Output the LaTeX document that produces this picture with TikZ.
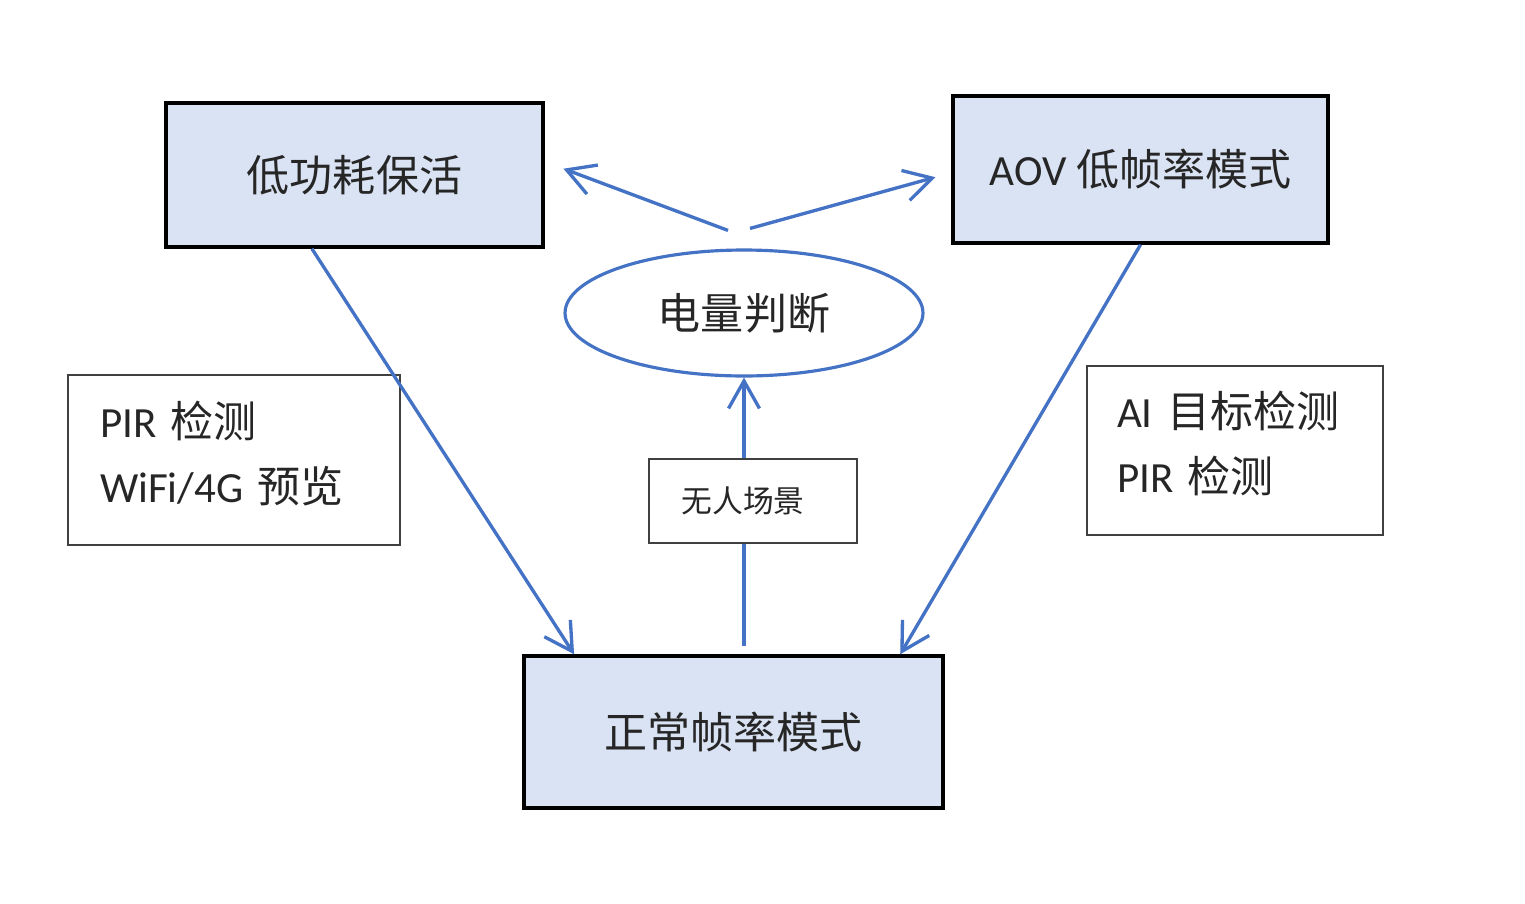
\documentclass[tikz,border=0pt]{standalone}
\usepackage{fontspec}
\usepackage{tikz}
\usetikzlibrary{arrows.meta,calc,positioning,shapes.geometric}
\setmainfont{Carlito}
\newfontfamily\cjk{Noto Sans CJK SC}
\definecolor{modefill}{RGB}{218,227,243}
\definecolor{flowblue}{RGB}{68,114,196}

\begin{document}
\begin{tikzpicture}[x=0.02cm,y=-0.02cm,>={Straight Barb[length=5.5mm,width=6.2mm]},
		mode/.style={draw=black,fill=modefill,line width=2pt,inner sep=0pt,text=black!85,font=\fontsize{24.5}{30}\selectfont},
		infobox/.style={draw=black!75,line width=1.1pt,align=left,inner xsep=0pt,text=black!85,font=\fontsize{24.5}{37}\selectfont},
		flow/.style={->,draw=flowblue,line width=1.9pt}]
		\useasboundingbox (0,0) rectangle (1525,903);
		\node[mode,minimum width=7.54cm,minimum height=2.88cm] (lowp) at (354.5,175) {\cjk 低功耗保活};
		\node[mode,minimum width=7.5cm,minimum height=2.94cm] (aov) at (1140.5,169.5) {AOV {\cjk 低帧率模式}};
		\node[mode,minimum width=8.38cm,minimum height=3.04cm] (normal) at (733.5,732) {\cjk 正常帧率模式};
		\node[ellipse,draw=flowblue,line width=1.8pt,minimum width=7.16cm,minimum height=2.52cm,text=black!85,font=\fontsize{24.5}{30}\selectfont] (judge) at (744,313) {\cjk 电量判断};
		\node[draw=black!75,line width=1.1pt,minimum width=4.16cm,minimum height=1.68cm,text=black!85,font=\fontsize{17.5}{20}\selectfont] (noone) at (753,501) {{\cjk 无人场景}\rule{0.4cm}{0pt}};
		\node[infobox,text width=5.36cm,minimum width=6.64cm,minimum height=3.4cm] (pirwifi) at (234,460) {PIR {\cjk 检测}\\WiFi/4G {\cjk 预览}\rule[-0.34cm]{0pt}{0.1pt}};
		\node[infobox,text width=4.72cm,minimum width=5.92cm,minimum height=3.38cm] (aipir) at (1235,450.5) {AI {\cjk 目标检测}\\PIR {\cjk 检测}\rule[-0.34cm]{0pt}{0.1pt}};
		% split above the ellipse
		\coordinate (forkL) at ([shift={(-16,-18)}]judge.north);
		\coordinate (forkR) at ([shift={(6,-20)}]judge.north);
		\draw[flow,shorten >=0.4cm] (forkL) -- (lowp.4);
		\draw[flow,shorten >=0.33cm] (forkR) -- (aov.181);
		\draw[flow] (lowp.240) -- (normal.154);
		\draw[flow] (aov.south) -- (normal.25);
		\draw[flow,-,shorten <=0.16cm] (normal.north -| judge.south) -- (noone.south -| judge.south);
		\draw[flow] (noone.north -| judge.south) -- (judge.south);
\end{tikzpicture}
\end{document}
